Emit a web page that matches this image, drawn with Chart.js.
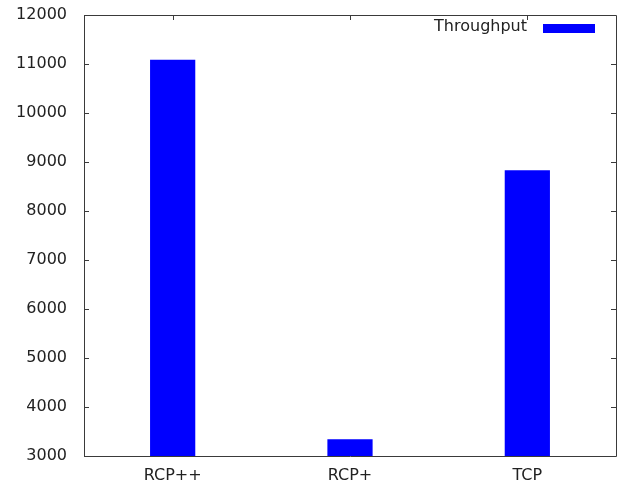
<!DOCTYPE html>
<html>
<head>
<meta charset="utf-8">
<style>
html,body{margin:0;padding:0;background:#fff;}
#wrap{width:626px;height:486px;}
</style>
<script src="https://cdn.jsdelivr.net/npm/chart.js@4/dist/chart.umd.min.js"></script>
</head>
<body>
<div id="wrap"><canvas id="c" width="626" height="486"></canvas></div>
<script>
const categories = ["RCP++", "RCP+", "TCP"];
const seriesName = "Throughput";
const throughput = [11085, 3340, 8830];
const yMin = 3000, yMax = 12000, yStep = 1000;

const FONT = "'DejaVu Sans', sans-serif";
const AXIS = "#3a3a3a";

const framePlugin = {
  id: 'frame',
  afterDraw(chart) {
    const ctx = chart.ctx, a = chart.chartArea;
    const xs = chart.scales.x, ys = chart.scales.y;
    ctx.save();
    ctx.strokeStyle = AXIS;
    ctx.lineWidth = 1;
    ctx.beginPath();
    ctx.rect(Math.round(a.left) + 0.5, Math.round(a.top) + 0.5, Math.round(a.right - a.left), Math.round(a.bottom - a.top));
    ctx.stroke();
    const tl = 5;
    ctx.beginPath();
    ys.ticks.forEach(t => {
      const y = Math.round(ys.getPixelForValue(t.value)) + 0.5;
      ctx.moveTo(a.left, y); ctx.lineTo(a.left + tl, y);
      ctx.moveTo(a.right, y); ctx.lineTo(a.right - tl, y);
    });
    categories.forEach((c, i) => {
      const x = Math.round(xs.getPixelForValue(i)) + 0.5;
      ctx.moveTo(x, a.top); ctx.lineTo(x, a.top + tl);
    });
    ctx.stroke();
    // legend
    ctx.font = "16px " + FONT;
    ctx.fillStyle = "#222";
    ctx.textAlign = "right";
    ctx.textBaseline = "middle";
    ctx.fillText(seriesName, a.right - 89, a.top + 12);
    ctx.fillStyle = "#0000ff";
    ctx.fillRect(a.right - 73, a.top + 9, 52, 9);
    ctx.restore();
  }
};

new Chart(document.getElementById('c'), {
  type: 'bar',
  data: {
    labels: categories,
    datasets: [{
      label: seriesName,
      data: throughput,
      backgroundColor: '#0000ff',
      borderWidth: 0,
      categoryPercentage: 1.0,
      barPercentage: 0.255
    }]
  },
  options: {
    responsive: false,
    animation: false,
    devicePixelRatio: 1,
    layout: { padding: { top: 15, right: 10, left: 0, bottom: 0 } },
    plugins: { legend: { display: false }, tooltip: { enabled: false } },
    scales: {
      x: {
        grid: { display: false, drawTicks: false },
        border: { display: false },
        ticks: { color: '#222', font: { family: FONT, size: 16 }, padding: 10 },
        afterFit(s) { s.height = 30; s.paddingLeft = 0; s.paddingRight = 0; }
      },
      y: {
        min: yMin, max: yMax,
        grid: { display: false, drawTicks: false },
        border: { display: false },
        ticks: { stepSize: yStep, color: '#222', font: { family: FONT, size: 16 }, padding: 17,
                 callback: v => String(v) },
        afterFit(s) { s.width = 84; s.paddingTop = 0; s.paddingBottom = 0; }
      }
    }
  },
  plugins: [framePlugin]
});
</script>
</body>
</html>
